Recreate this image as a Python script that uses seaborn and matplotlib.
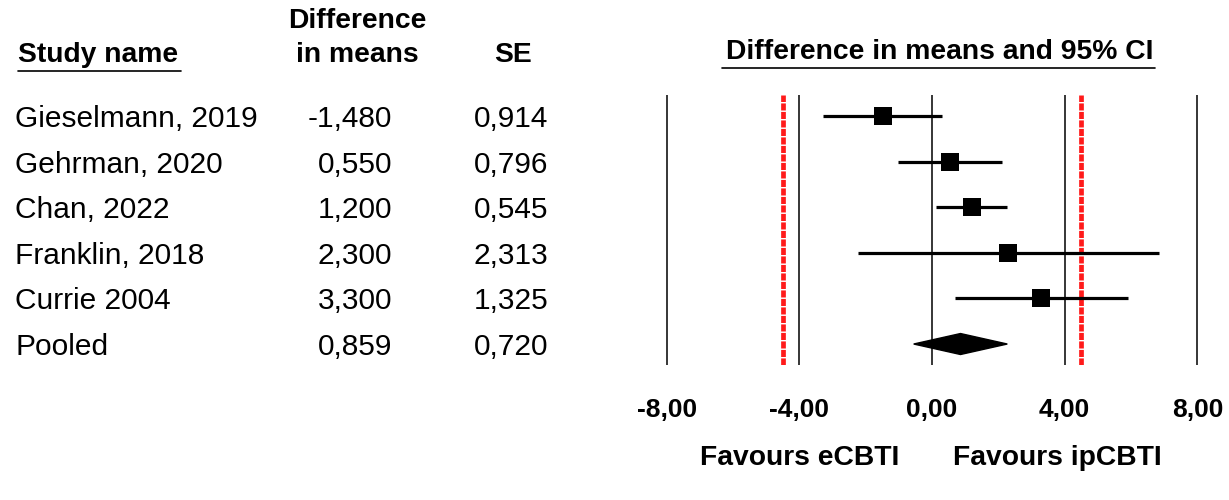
import matplotlib
matplotlib.use("Agg")
import matplotlib.pyplot as plt
import matplotlib.transforms as mtransforms
from matplotlib.patches import Polygon
import numpy as np
import pandas as pd
import seaborn as sns

# Study-level results
studies = ["Gieselmann, 2019", "Gehrman, 2020", "Chan, 2022", "Franklin, 2018", "Currie 2004"]
diff_means = [-1.480, 0.550, 1.200, 2.300, 3.300]
std_errors = [0.914, 0.796, 0.545, 2.313, 1.325]

# Pooled estimate
pooled_label = "Pooled"
pooled_diff = 0.859
pooled_se = 0.720

# Axis and reference lines
x_ticks = [-8, -4, 0, 4, 8]
x_tick_labels = ["-8,00", "-4,00", "0,00", "4,00", "8,00"]
mcid = [-4.5, 4.5]
z = 1.96


def fmt(v):
    return f"{v:.3f}".replace(".", ",")


sns.set_theme(style="white")
plt.rcParams["font.family"] = ["Liberation Sans", "DejaVu Sans"]
plt.rcParams["text.color"] = "black"
plt.rcParams["xtick.color"] = "black"

fig = plt.figure(figsize=(12.29, 5.0), dpi=100)
ax = fig.add_axes([665 / 1229, 1 - 365 / 500, 534 / 1229, 270 / 500])

n = len(studies)
df = pd.DataFrame({
    "study": studies,
    "diff": diff_means,
    "se": std_errors,
    "row": np.arange(n),
})
df["lo"] = df["diff"] - z * df["se"]
df["hi"] = df["diff"] + z * df["se"]

# Vertical guide lines
for xv in x_ticks:
    ax.axvline(xv, color="black", lw=1.1, zorder=1)
for xv in mcid:
    ax.axvline(xv, color="#ff1a1a", lw=3.4, ls=(0, (1.5, 0.3)), zorder=2)

# Confidence intervals and point estimates
ax.hlines(df["row"], df["lo"], df["hi"], color="black", lw=2.3, zorder=3)
sns.scatterplot(data=df, x="diff", y="row", marker="s", s=12.5 ** 2,
                color="black", edgecolor="black", linewidth=0, ax=ax,
                legend=False, zorder=4)

# Pooled diamond
prow = n
plo = pooled_diff - z * pooled_se
phi = pooled_diff + z * pooled_se
ax.add_patch(Polygon([[plo, prow], [pooled_diff, prow - 0.23],
                      [phi, prow], [pooled_diff, prow + 0.23]],
                     closed=True, facecolor="black", edgecolor="black", zorder=4))

ax.set_xlim(-8.05, 8.05)
ax.set_ylim(n + 0.46, -0.46)
ax.set_xticks(x_ticks)
ax.set_xticklabels(x_tick_labels, fontsize=19, fontweight="bold")
ax.tick_params(axis="x", length=0, pad=24)
ax.set_yticks([])
ax.set_xlabel("")
ax.set_ylabel("")
for sp in ax.spines.values():
    sp.set_visible(False)

# Table columns to the left of the plot
trans = mtransforms.blended_transform_factory(fig.transFigure, ax.transData)
rows_text = list(zip(studies, diff_means, std_errors)) + [(pooled_label, pooled_diff, pooled_se)]
body_fs = 21.5
for i, (name, d, se) in enumerate(rows_text):
    ax.text(15 / 1229, i, name, transform=trans, ha="left", va="center_baseline",
            fontsize=body_fs, clip_on=False)
    ax.text(392 / 1229, i, fmt(d), transform=trans, ha="right", va="center_baseline",
            fontsize=body_fs, clip_on=False)
    ax.text(548 / 1229, i, fmt(se), transform=trans, ha="right", va="center_baseline",
            fontsize=body_fs, clip_on=False)

# Column headers
head_fs = 20.3
hy = 1 - 55 / 500
fig.text(18 / 1229, hy, "Study name", ha="left", va="center", fontsize=head_fs, fontweight="bold")
fig.text(357 / 1229, 1 - 21 / 500, "Difference", ha="center", va="center", fontsize=head_fs, fontweight="bold")
fig.text(357 / 1229, hy, "in means", ha="center", va="center", fontsize=head_fs, fontweight="bold")
fig.text(513 / 1229, hy, "SE", ha="center", va="center", fontsize=head_fs, fontweight="bold")
fig.text(940 / 1229, 1 - 52 / 500, "Difference in means and 95% CI", ha="center", va="center",
         fontsize=head_fs, fontweight="bold")

# Header underlines
fig.add_artist(plt.Line2D([18 / 1229, 181 / 1229], [1 - 71 / 500] * 2, color="black", lw=1.2))
fig.add_artist(plt.Line2D([722 / 1229, 1155 / 1229], [1 - 68 / 500] * 2, color="black", lw=1.2))

# Direction labels
fy = 1 - 458 / 500
fig.text(800 / 1229, fy, "Favours eCBTI", ha="center", va="center", fontsize=head_fs, fontweight="bold")
fig.text(1057 / 1229, fy, "Favours ipCBTI", ha="center", va="center", fontsize=head_fs, fontweight="bold")

fig.savefig("out.png", dpi=100, facecolor="white")
